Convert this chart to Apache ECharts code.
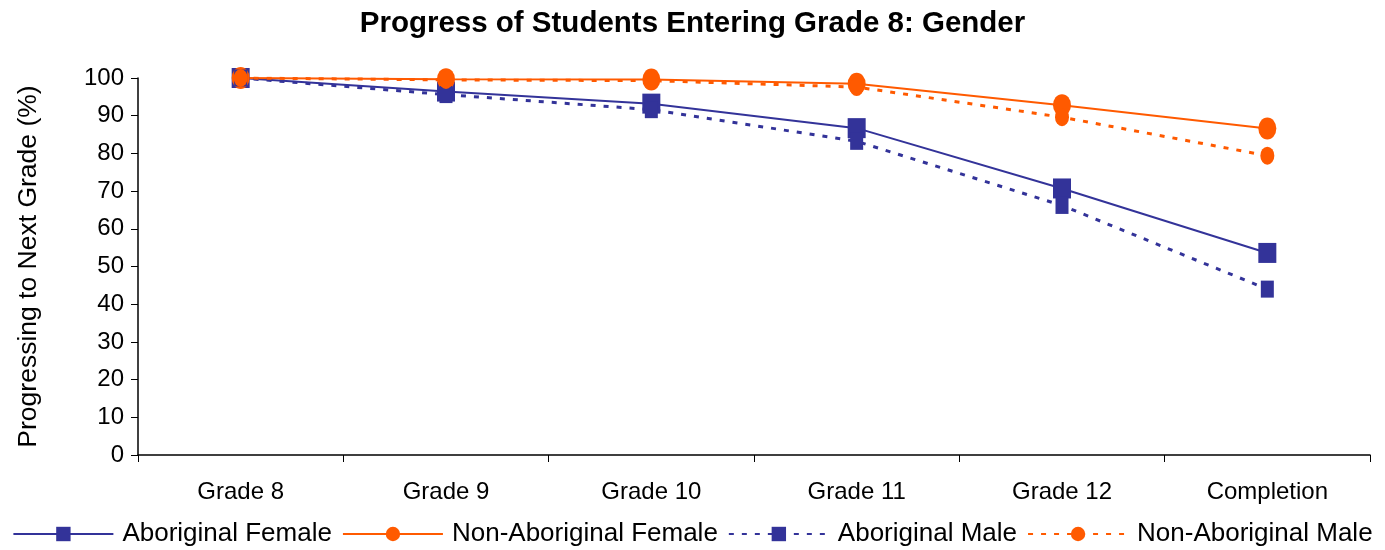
<!DOCTYPE html>
<html><head><meta charset="utf-8">
<script src="https://cdn.jsdelivr.net/npm/echarts@6/dist/echarts.min.js"></script>
<style>html,body{margin:0;padding:0;background:#fff}#c{width:1385px;height:550px}</style>
</head><body><div id="c"></div>
<script>
var categories = ['Grade 8','Grade 9','Grade 10','Grade 11','Grade 12','Completion'];
var aboriginalFemale = [100, 96.4, 93.2, 86.7, 70.7, 53.6];
var nonAboriginalFemale = [100, 99.7, 99.6, 98.5, 92.8, 86.6];
var aboriginalMale = [100, 95.6, 91.6, 83.2, 66.2, 44.0];
var nonAboriginalMale = [100, 99.5, 99.3, 97.6, 89.6, 79.4];
var yTicks = [0,10,20,30,40,50,60,70,80,90,100];

var NAVY = '#333399', ORANGE = '#FF5A00';
var font = 'Liberation Sans, Arial, sans-serif';
var chart = echarts.init(document.getElementById('c'));
function s(name, data, color, dotted, symbol, size){
  return {name:name, type:'line', data:data, symbol:symbol, symbolSize:size,
    itemStyle:{color:color}, lineStyle:{color:color, width: dotted?3:2, type: dotted?[5,8]:'solid'},
    emphasis:{disabled:true}, animation:false};
}
chart.setOption({
  animation:false,
  title:{text:'Progress of Students Entering Grade 8: Gender', left:'center', top:4,
    textStyle:{fontFamily:font, fontSize:29.5, fontWeight:'bold', color:'#000'}},
  grid:{left:138, right:15, top:78, bottom:95},
  legend:{bottom:-2, left:'center', itemWidth:100, itemHeight:18, itemGap:10,
    textStyle:{fontFamily:font, fontSize:26, color:'#000', padding:[0,0,0,4]},
    data:['Aboriginal Female','Non-Aboriginal Female','Aboriginal Male','Non-Aboriginal Male']},
  xAxis:{type:'category', data:categories, boundaryGap:true,
    axisLine:{lineStyle:{color:'#000', width:1.5}},
    axisTick:{show:true, length:7, lineStyle:{color:'#000'}},
    axisLabel:{fontFamily:font, fontSize:24, color:'#000', margin:25},
    splitLine:{show:false}},
  yAxis:{type:'value', min:0, max:100, interval:10,
    name:'Progressing to Next Grade (%)', nameLocation:'middle', nameGap:96, nameRotate:90,
    nameTextStyle:{fontFamily:font, fontSize:26.5, color:'#000'},
    axisLine:{show:true, lineStyle:{color:'#000', width:1.5}},
    axisTick:{show:true, length:7, lineStyle:{color:'#000'}},
    axisLabel:{fontFamily:font, fontSize:24, color:'#000', margin:14,
      formatter:function(v){return yTicks.indexOf(v)>=0?String(v):'';}},
    splitLine:{show:false}},
  series:[
    s('Aboriginal Female', aboriginalFemale, NAVY, false, 'rect', [18,20]),
    s('Non-Aboriginal Female', nonAboriginalFemale, ORANGE, false, 'circle', [18,22]),
    s('Aboriginal Male', aboriginalMale, NAVY, true, 'rect', [13,17]),
    s('Non-Aboriginal Male', nonAboriginalMale, ORANGE, true, 'circle', [14,18])
  ]
});
</script></body></html>
